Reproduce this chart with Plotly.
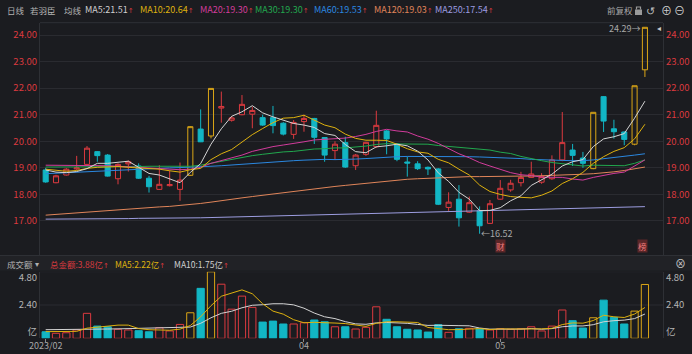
import plotly.graph_objects as go

W, H = 692, 354
BG = "#1b1c20"
GRID = "#2a2b30"
BORDER = "#2e3035"
RED = "#dc3a3f"
CYAN = "#12b6c4"
GOLD = "#dba616"
FONT = "Noto Sans CJK SC"

# ---------------- data ----------------
dates = ["2023-02-27", "2023-02-28", "2023-03-01", "2023-03-02", "2023-03-03",
         "2023-03-06", "2023-03-07", "2023-03-08", "2023-03-09", "2023-03-10",
         "2023-03-13", "2023-03-14", "2023-03-15", "2023-03-16", "2023-03-17",
         "2023-03-20", "2023-03-21", "2023-03-22", "2023-03-23", "2023-03-24",
         "2023-03-27", "2023-03-28", "2023-03-29", "2023-03-30", "2023-03-31",
         "2023-04-03", "2023-04-04", "2023-04-06", "2023-04-07", "2023-04-10",
         "2023-04-11", "2023-04-12", "2023-04-13", "2023-04-14", "2023-04-17",
         "2023-04-18", "2023-04-19", "2023-04-20", "2023-04-21", "2023-04-24",
         "2023-04-25", "2023-04-26", "2023-04-27", "2023-04-28", "2023-05-04",
         "2023-05-05", "2023-05-08", "2023-05-09", "2023-05-10", "2023-05-11",
         "2023-05-12", "2023-05-15", "2023-05-16", "2023-05-17", "2023-05-18",
         "2023-05-19", "2023-05-22", "2023-05-23", "2023-05-24"]

opens = [18.92, 18.44, 18.73, 18.96, 19.13, 19.61, 19.48, 18.59, 19.15, 19.07,
         18.61, 18.19, 18.33, 18.19, 18.72, 20.46, 20.20, 21.25, 20.79, 21.00,
         21.02, 20.89, 20.89, 20.68, 20.26, 20.74, 20.86, 20.14, 19.65, 19.95,
         19.08, 19.51, 19.80, 20.39, 19.90, 19.22, 19.15, 19.02, 18.96, 17.51,
         17.82, 17.33, 17.38, 16.91, 17.82, 18.17, 18.44, 18.64, 18.46, 18.59,
         19.30, 19.67, 19.37, 18.97, 21.68, 20.47, 20.35, 19.89, 22.69]
highs = [19.00, 18.74, 18.99, 19.45, 19.82, 19.63, 19.52, 19.17, 19.28, 19.17,
         18.70, 19.10, 18.90, 19.20, 20.57, 21.20, 21.99, 21.87, 20.95, 21.74,
         21.30, 21.00, 21.33, 20.72, 20.80, 21.00, 20.88, 20.16, 20.00, 20.17,
         19.52, 19.98, 21.15, 20.42, 19.92, 19.42, 19.25, 19.05, 18.99, 18.08,
         18.35, 17.92, 17.55, 17.79, 18.54, 18.55, 18.85, 19.23, 18.80, 19.47,
         21.10, 19.90, 19.60, 21.09, 21.70, 20.81, 20.37, 22.09, 24.29]
lows = [18.44, 18.42, 18.71, 18.92, 19.10, 19.23, 18.67, 18.38, 18.86, 18.58,
        18.07, 18.17, 18.30, 17.76, 18.70, 19.97, 20.11, 20.70, 20.74, 20.98,
        20.49, 20.58, 20.30, 20.22, 20.09, 20.36, 19.90, 19.23, 19.30, 19.00,
        18.92, 19.45, 19.75, 19.51, 19.25, 18.67, 18.92, 18.73, 17.60, 17.38,
        16.79, 17.30, 16.52, 16.89, 17.80, 18.10, 18.30, 18.62, 18.40, 18.55,
        19.25, 19.07, 19.00, 18.95, 20.35, 20.10, 19.85, 19.85, 22.42]
closes = [18.47, 18.70, 18.95, 19.00, 19.74, 19.46, 18.69, 19.13, 19.23, 18.61,
          18.29, 18.38, 18.37, 18.54, 20.55, 19.98, 21.99, 21.31, 20.88, 21.39,
          21.16, 20.61, 20.59, 20.27, 20.71, 20.86, 20.15, 19.48, 19.89, 19.03,
          19.48, 19.96, 20.60, 20.09, 19.32, 19.18, 18.97, 18.96, 17.63, 17.71,
          17.12, 17.69, 16.82, 17.65, 18.23, 18.42, 18.64, 18.77, 18.67, 19.30,
          19.95, 19.47, 19.17, 21.09, 20.76, 20.36, 20.07, 22.09, 24.29]
limit_up_idx = [14, 16, 53, 57, 58]

ma5 = [18.92, 18.84, 18.82, 18.86, 18.97, 19.17, 19.17, 19.20, 19.25, 19.02,
       18.79, 18.73, 18.58, 18.44, 18.83, 19.16, 19.89, 20.47, 20.94, 21.11,
       21.34, 21.07, 20.92, 20.80, 20.67, 20.61, 20.52, 20.29, 20.22, 19.88,
       19.61, 19.57, 19.79, 19.83, 19.89, 19.83, 19.63, 19.30, 18.81, 18.49,
       18.08, 17.82, 17.39, 17.40, 17.50, 17.76, 17.95, 18.34, 18.55, 18.76,
       19.07, 19.23, 19.31, 19.80, 20.09, 20.17, 20.29, 20.87, 21.51]
ma10 = [18.95, 18.90, 18.87, 18.90, 18.98, 19.02, 19.04, 19.05, 19.02, 19.00,
        18.98, 18.95, 18.89, 18.84, 18.93, 18.98, 19.31, 19.53, 19.69, 19.97,
        20.25, 20.48, 20.70, 20.87, 20.89, 20.98, 20.79, 20.61, 20.51, 20.27,
        20.11, 20.04, 20.04, 20.03, 19.89, 19.72, 19.60, 19.55, 19.32, 19.19,
        18.95, 18.73, 18.35, 18.11, 18.00, 17.92, 17.89, 17.87, 17.97, 18.13,
        18.41, 18.59, 18.83, 19.17, 19.42, 19.62, 19.76, 20.09, 20.64]
ma20 = [19.10, 19.10, 19.09, 19.09, 19.10, 19.10, 19.08, 19.06, 19.04, 19.02,
        19.00, 18.97, 18.95, 18.93, 18.95, 19.02, 19.17, 19.28, 19.37, 19.48,
        19.62, 19.71, 19.80, 19.86, 19.91, 19.98, 20.05, 20.07, 20.10, 20.12,
        20.18, 20.26, 20.37, 20.45, 20.39, 20.35, 20.20, 20.08, 19.92, 19.73,
        19.53, 19.38, 19.20, 19.07, 18.94, 18.82, 18.74, 18.71, 18.65, 18.64,
        18.64, 18.58, 18.54, 18.64, 18.72, 18.79, 18.84, 19.07, 19.30]
ma30 = [19.03, 19.03, 19.03, 19.04, 19.04, 19.05, 19.05, 19.05, 19.05, 19.05,
        19.06, 19.06, 19.06, 19.05, 19.06, 19.10, 19.17, 19.25, 19.33, 19.40,
        19.46, 19.51, 19.56, 19.60, 19.62, 19.67, 19.71, 19.72, 19.75, 19.75,
        19.78, 19.82, 19.88, 19.91, 19.90, 19.89, 19.90, 19.89, 19.84, 19.81,
        19.77, 19.75, 19.70, 19.67, 19.59, 19.54, 19.43, 19.34, 19.27, 19.20,
        19.16, 19.12, 19.07, 19.10, 19.10, 19.09, 19.08, 19.17, 19.30]
ma60 = [18.78, 18.80, 18.82, 18.84, 18.86, 18.88, 18.90, 18.92, 18.94, 18.96,
        18.97, 18.98, 19.00, 19.01, 19.02, 19.04, 19.06, 19.08, 19.11, 19.14,
        19.17, 19.20, 19.22, 19.24, 19.27, 19.29, 19.31, 19.32, 19.31, 19.31,
        19.33, 19.35, 19.38, 19.40, 19.42, 19.43, 19.43, 19.44, 19.44, 19.44,
        19.43, 19.42, 19.41, 19.40, 19.39, 19.37, 19.35, 19.32, 19.30, 19.29,
        19.28, 19.27, 19.27, 19.30, 19.34, 19.38, 19.42, 19.48, 19.53]
ma120 = [17.22, 17.25, 17.28, 17.31, 17.34, 17.37, 17.40, 17.43, 17.46, 17.49,
         17.51, 17.53, 17.55, 17.58, 17.62, 17.66, 17.71, 17.77, 17.82, 17.87,
         17.92, 17.97, 18.02, 18.07, 18.12, 18.16, 18.20, 18.25, 18.30, 18.34,
         18.38, 18.42, 18.46, 18.50, 18.54, 18.57, 18.59, 18.61, 18.63, 18.65,
         18.66, 18.67, 18.67, 18.68, 18.68, 18.68, 18.69, 18.69, 18.70, 18.71,
         18.72, 18.74, 18.76, 18.78, 18.81, 18.85, 18.90, 18.96, 19.03]
ma250 = [17.07, 17.07, 17.07, 17.08, 17.08, 17.08, 17.09, 17.09, 17.09, 17.10,
         17.10, 17.10, 17.11, 17.11, 17.12, 17.12, 17.13, 17.14, 17.15, 17.16,
         17.17, 17.18, 17.20, 17.21, 17.22, 17.23, 17.24, 17.25, 17.26, 17.27,
         17.28, 17.29, 17.30, 17.31, 17.32, 17.33, 17.34, 17.35, 17.35, 17.36,
         17.37, 17.38, 17.38, 17.39, 17.40, 17.41, 17.42, 17.43, 17.44, 17.45,
         17.46, 17.47, 17.48, 17.49, 17.50, 17.51, 17.52, 17.53, 17.54]

amount = [0.47, 0.36, 0.40, 0.60, 1.80, 0.88, 0.83, 0.65, 0.60, 0.55,
          0.47, 0.76, 0.53, 1.00, 1.84, 3.60, 4.79, 3.90, 2.10, 3.04,
          2.23, 1.17, 1.24, 1.03, 1.03, 1.12, 1.32, 1.19, 0.83, 0.83,
          0.67, 0.79, 2.27, 1.37, 0.83, 0.65, 0.60, 0.45, 0.98, 0.43,
          0.69, 0.72, 0.69, 0.60, 0.69, 0.65, 0.69, 0.83, 0.53, 0.88,
          2.04, 1.27, 0.74, 1.48, 2.75, 1.51, 1.03, 1.96, 3.88]
amt_ma5 = [0.48, 0.47, 0.47, 0.50, 0.73, 0.81, 0.90, 0.95, 0.95, 0.70,
           0.62, 0.61, 0.58, 0.66, 0.92, 1.55, 2.35, 3.03, 3.25, 3.49,
           3.21, 2.49, 1.96, 1.74, 1.34, 1.12, 1.15, 1.14, 1.10, 1.06,
           0.97, 0.86, 1.08, 1.19, 1.19, 1.18, 1.14, 0.78, 0.70, 0.62,
           0.63, 0.65, 0.70, 0.63, 0.68, 0.67, 0.66, 0.69, 0.68, 0.72,
           0.99, 1.11, 1.09, 1.28, 1.66, 1.55, 1.50, 1.75, 2.22]
amt_ma10 = [0.62, 0.62, 0.62, 0.63, 0.65, 0.66, 0.67, 0.68, 0.70, 0.71,
            0.71, 0.75, 0.77, 0.81, 0.81, 1.08, 1.48, 1.80, 1.95, 2.20,
            2.38, 2.42, 2.49, 2.49, 2.41, 2.17, 1.82, 1.55, 1.42, 1.20,
            1.04, 1.01, 1.11, 1.14, 1.12, 1.08, 1.00, 0.93, 0.94, 0.90,
            0.91, 0.90, 0.74, 0.66, 0.65, 0.65, 0.66, 0.70, 0.65, 0.70,
            0.83, 0.89, 0.89, 0.98, 1.19, 1.27, 1.31, 1.42, 1.75]

x_ticks = [dates[0], dates[25], dates[44]]
x_ticktext = ["2023/02", "04", "05"]
price_ticks = [17, 18, 19, 20, 21, 22, 23, 24]
amt_tickvals = [0.47, 2.40, 4.34]
amt_ticktext = ["亿", "2.40", "4.80"]

# ---------------- layout helpers ----------------
XL, XR = 40 / W, 663 / W
def py(px):
    return 1 - px / H

PRICE_DOM = [py(255), py(22.7)]
VOL_DOM = [py(338.3), py(271.7)]

n = len(dates)
normal = [i for i in range(n) if i not in limit_up_idx]
up = [i for i in normal if closes[i] >= opens[i]]
down = [i for i in normal if closes[i] < opens[i]]

fig = go.Figure()

def cs(idx, inc_color, dec_color, dec_fill):
    return go.Candlestick(
        x=[dates[i] for i in idx], open=[opens[i] for i in idx],
        high=[highs[i] for i in idx], low=[lows[i] for i in idx],
        close=[closes[i] for i in idx],
        increasing=dict(line=dict(color=inc_color, width=1), fillcolor="rgba(0,0,0,0)"),
        decreasing=dict(line=dict(color=dec_color, width=1), fillcolor=dec_fill),
        whiskerwidth=0, showlegend=False, hoverinfo="skip", xaxis="x", yaxis="y")

fig.add_trace(cs(normal, RED, CYAN, CYAN))
fig.add_trace(cs(limit_up_idx, GOLD, GOLD, GOLD))

ma_specs = [(ma250, "#9d9de0"), (ma120, "#e0855a"), (ma60, "#2b88e0"),
            (ma30, "#22a84e"), (ma20, "#d23c9c"), (ma10, "#dfb20f"), (ma5, "#d4d4d4")]
for arr, col in ma_specs:
    fig.add_trace(go.Scatter(x=dates, y=arr, mode="lines", line=dict(color=col, width=1),
                             showlegend=False, hoverinfo="skip", xaxis="x", yaxis="y"))
# right-side price axis companion
fig.add_trace(go.Scatter(x=dates, y=closes, mode="lines", opacity=0, showlegend=False,
                         hoverinfo="skip", xaxis="x", yaxis="y2"))

def bars(idx, line_col, fill):
    return go.Bar(x=[dates[i] for i in idx], y=[amount[i] for i in idx], width=0.7,
                  marker=dict(color=fill, line=dict(color=line_col, width=1)),
                  showlegend=False, hoverinfo="skip", xaxis="x2", yaxis="y3")

fig.add_trace(bars(down, CYAN, CYAN))
fig.add_trace(bars(up, RED, "rgba(0,0,0,0)"))
fig.add_trace(bars(limit_up_idx, GOLD, "rgba(0,0,0,0)"))
fig.add_trace(go.Scatter(x=dates, y=amt_ma10, mode="lines", line=dict(color="#d4d4d4", width=1),
                         showlegend=False, hoverinfo="skip", xaxis="x2", yaxis="y3"))
fig.add_trace(go.Scatter(x=dates, y=amt_ma5, mode="lines", line=dict(color="#dfb20f", width=1),
                         showlegend=False, hoverinfo="skip", xaxis="x2", yaxis="y3"))
fig.add_trace(go.Scatter(x=dates, y=amount, mode="lines", opacity=0, showlegend=False,
                         hoverinfo="skip", xaxis="x2", yaxis="y4"))

xr = [-0.55, 59.75]
common_x = dict(domain=[XL, XR], type="category", categoryorder="array", categoryarray=dates,
                range=xr, showgrid=False, zeroline=False, showline=False, fixedrange=True)
price_y = dict(domain=PRICE_DOM, range=[15.72, 24.463], tickvals=price_ticks,
               ticktext=[f"{v:.2f}" for v in price_ticks], tickfont=dict(color=RED, size=9.5, family=FONT),
               showgrid=True, gridcolor=GRID, gridwidth=1, zeroline=False, ticks="",
               showline=True, linecolor=BORDER, linewidth=1, automargin=False)
vol_y = dict(domain=VOL_DOM, range=[0, 4.8], tickvals=amt_tickvals, ticktext=amt_ticktext,
             tickfont=dict(color="#b4b4b4", size=9.5, family=FONT), showgrid=False, zeroline=False,
             ticks="", showline=True, linecolor=BORDER, linewidth=1, automargin=False)

fig.update_layout(
    width=W, height=H, margin=dict(l=0, r=0, t=0, b=0), autosize=False,
    paper_bgcolor=BG, plot_bgcolor=BG, template="none", barmode="overlay",
    font=dict(family=FONT, size=9.5, color="#b0b0b0"), boxgap=0.3,
    xaxis=dict(common_x, anchor="y", showticklabels=False, rangeslider=dict(visible=False)),
    xaxis2=dict(common_x, anchor="y3", matches="x", tickvals=x_ticks, ticktext=x_ticktext,
                ticks="outside", ticklen=3, tickcolor="#8a8a8a", ticklabelstandoff=-4,
                tickfont=dict(color="#a8a8a8", size=9, family=FONT), automargin=False),
    yaxis=dict(price_y, side="left", anchor="x"),
    yaxis2=dict(price_y, side="right", overlaying="y", matches="y", anchor="x", showgrid=False),
    yaxis3=dict(vol_y, side="left", anchor="x2"),
    yaxis4=dict(vol_y, side="right", overlaying="y3", matches="y3", anchor="x2"),
)

shapes = [
    # legend band of the amount pane
    dict(type="rect", xref="paper", yref="paper", x0=0, x1=1, y0=py(270.5), y1=py(255.5),
         fillcolor="#212226", line=dict(width=0), layer="below"),
    dict(type="line", xref="paper", yref="paper", x0=0, x1=1, y0=py(255.5), y1=py(255.5),
         line=dict(color=BORDER, width=1)),
    dict(type="line", xref="paper", yref="paper", x0=XL, x1=XR, y0=py(22.7), y1=py(22.7),
         line=dict(color=BORDER, width=1)),
    dict(type="line", xref="x2 domain", yref="y3", x0=0, x1=1, y0=2.4, y1=2.4,
         line=dict(color=GRID, width=1), layer="below"),
    dict(type="line", xref="x2 domain", yref="y3", x0=0, x1=1, y0=4.8, y1=4.8,
         line=dict(color=GRID, width=1), layer="below"),
    # lock icon
    dict(type="rect", xref="paper", yref="paper", x0=635 / W, x1=642 / W, y0=py(15), y1=py(9.5),
         fillcolor="#9a9a9a", line=dict(width=0)),
    dict(type="path", xref="paper", yref="paper",
         path=f"M {636.5/W} {py(9.5)} L {636.5/W} {py(7)} L {640.5/W} {py(7)} L {640.5/W} {py(9.5)}",
         line=dict(color="#9a9a9a", width=1.2)),
]
fig.update_layout(shapes=shapes)

ARROW = f"<span style='color:{RED};font-size:7px;font-family:DejaVu Sans'>↑</span>"
ann = []
def txt(px, pyy, text, color="#b0b0b0", size=9, xanchor="left"):
    ann.append(dict(xref="paper", yref="paper", x=px / W, y=py(pyy), text=text, showarrow=False,
                    xanchor=xanchor, yanchor="middle", font=dict(color=color, size=size, family=FONT)))

header = [(5, "日线", "#b4b4b4"), (28, "若羽臣", "#b4b4b4"), (62, "均线", "#b4b4b4"),
          (83, "MA5:21.51", "#d0d0d0"), (138, "MA10:20.64", "#dfb20f"),
          (198, "MA20:19.30", "#d23c9c"), (253, "MA30:19.30", "#22a84e"),
          (312, "MA60:19.53", "#2b88e0"), (372, "MA120:19.03", "#e0855a"),
          (433, "MA250:17.54", "#9d9de0")]
for px, t, c in header:
    if t.startswith("MA"):
        txt(px, 10, t + ARROW, c, 9)
    else:
        txt(px, 10, t, c, 8.5)
txt(605, 10, "前复权", "#a8a8a8", 8.5)
txt(650, 10, "↺", "#bdbdbd", 11, "center")
txt(666, 10, "⊕", "#d0d0d0", 11, "center")
txt(679, 10, "⊖", "#d0d0d0", 11, "center")

txt(5, 263.5, "成交额", "#b0b0b0", 8.5)
txt(37, 263.5, "▾", "#b0b0b0", 8, "center")
txt(48, 263.5, "总金额:3.88亿" + ARROW, RED, 8.5)
txt(113, 263.5, "MA5:2.22亿" + ARROW, "#dfb20f", 8.5)
txt(172, 263.5, "MA10:1.75亿" + ARROW, "#d0d0d0", 8.5)
txt(680, 263, "⊗", "#c8c8c8", 11, "center")
txt(659, 27.5, "◂", "#c8c8c8", 8, "center")

# price markers
ann.append(dict(xref="x", yref="y", x=dates[42], y=lows[42], text="←16.52", showarrow=False,
                xanchor="left", yanchor="middle", yshift=0, xshift=-1,
                font=dict(color="#a8a8a8", size=9, family=FONT)))
ann.append(dict(xref="x", yref="y", x=dates[58], y=highs[58], text="24.29→", showarrow=False,
                xanchor="right", yanchor="middle", xshift=-3, yshift=-1,
                font=dict(color="#a8a8a8", size=9, family=FONT)))
for i, ch in [(44, "财"), (58, "榜")]:
    ann.append(dict(xref="x", yref="paper", x=dates[i], y=py(245.5), text=ch, showarrow=False,
                    xanchor="center", yanchor="middle", bgcolor="#5a2628", borderpad=0,
                    xshift=-2 if i == 58 else 0,
                    font=dict(color="#f07a7a", size=8.5, family=FONT)))
fig.update_layout(annotations=ann)

fig.write_html("out.html")
